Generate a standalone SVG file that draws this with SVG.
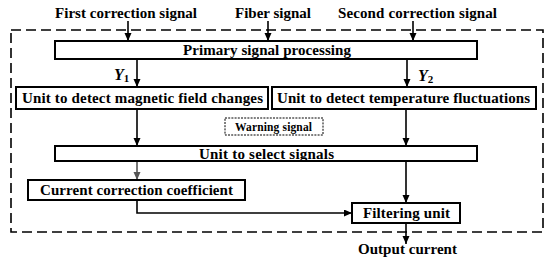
<svg xmlns="http://www.w3.org/2000/svg" width="550" height="264" viewBox="0 0 550 264">
<style>
text{font-family:"Liberation Serif","Times New Roman",serif;font-weight:bold;font-size:15px;fill:#000;text-anchor:middle}
.box{fill:#fff;stroke:#000;stroke-width:2}
.c{fill:none;stroke:#000;stroke-width:1.6}
.g{stroke:#555}
.outer{fill:none;stroke:#000;stroke-width:1.6;stroke-dasharray:10 5}
.warn{fill:#fff;stroke:#000;stroke-width:1;stroke-dasharray:2 1.2}
.small{font-size:11.5px}
.y{font-style:italic;font-size:16px;text-anchor:start}
.sub{font-size:11px;font-style:normal}
</style>
<defs>
<marker id="ah" markerUnits="userSpaceOnUse" markerWidth="8" markerHeight="8" refX="8" refY="3.5" orient="auto">
<path d="M0,0 L8,3.5 L0,7 z" fill="#000"/>
</marker>
<marker id="ahg" markerUnits="userSpaceOnUse" markerWidth="8" markerHeight="8" refX="8" refY="3.5" orient="auto">
<path d="M0,0 L8,3.5 L0,7 z" fill="#555"/>
</marker>
</defs>
<rect id="outer" class="outer" x="11" y="30" width="532" height="202"/>
<g id="inputs">
<text x="126" y="18" textLength="142">First correction signal</text>
<text x="273" y="18" textLength="76">Fiber signal</text>
<text x="417.5" y="18" textLength="159">Second correction signal</text>
</g>
<g id="connectors">
<line class="c" x1="128" y1="21" x2="128" y2="41" marker-end="url(#ah)"/>
<line class="c" x1="268" y1="21" x2="268" y2="41" marker-end="url(#ah)"/>
<line class="c" x1="413" y1="21" x2="413" y2="41" marker-end="url(#ah)"/>
<line class="c" x1="137" y1="59" x2="137" y2="87" marker-end="url(#ah)"/>
<line class="c" x1="407" y1="59" x2="407" y2="87" marker-end="url(#ah)"/>
<line class="c" x1="137" y1="109" x2="137" y2="146" marker-end="url(#ah)"/>
<line class="c" x1="406" y1="109" x2="406" y2="146" marker-end="url(#ah)"/>
<line class="c g" x1="137" y1="161" x2="137" y2="180" marker-end="url(#ahg)"/>
<line class="c" x1="406" y1="161" x2="406" y2="203" marker-end="url(#ah)"/>
<polyline class="c" points="137,200 137,213 352,213" marker-end="url(#ah)"/>
<line class="c" x1="406" y1="223" x2="406" y2="244" marker-end="url(#ah)"/>
<text class="y" x="114" y="80">Y<tspan class="sub" dy="1.5">1</tspan></text>
<text class="y" x="418" y="81">Y<tspan class="sub" dy="1.5">2</tspan></text>
</g>
<g id="primary">
<rect class="box" x="55" y="41" width="422" height="18"/>
<text x="267" y="54.5" textLength="168">Primary signal processing</text>
</g>
<g id="magnetic">
<rect class="box" x="16" y="87" width="252" height="22"/>
<text x="142.5" y="102.5" textLength="241">Unit to detect magnetic field changes</text>
</g>
<g id="temperature">
<rect class="box" x="272" y="87" width="264" height="22"/>
<text x="403.5" y="102.5" textLength="253">Unit to detect temperature fluctuations</text>
</g>
<g id="warning">
<rect class="warn" x="225" y="118" width="98" height="17"/>
<text class="small" x="273.5" y="130.5" textLength="77">Warning signal</text>
</g>
<g id="select">
<rect class="box" x="55" y="146" width="422" height="15"/>
<text x="266.5" y="158.5" textLength="135">Unit to select signals</text>
</g>
<g id="coefficient">
<rect class="box" x="28" y="180" width="217" height="20"/>
<text x="136.5" y="195" textLength="193">Current correction coefficient</text>
</g>
<g id="filtering">
<rect class="box" x="352" y="203" width="108" height="20"/>
<text x="406.5" y="218" textLength="87">Filtering unit</text>
</g>
<g id="output">
<text x="407.5" y="254" textLength="99">Output current</text>
</g>
</svg>
